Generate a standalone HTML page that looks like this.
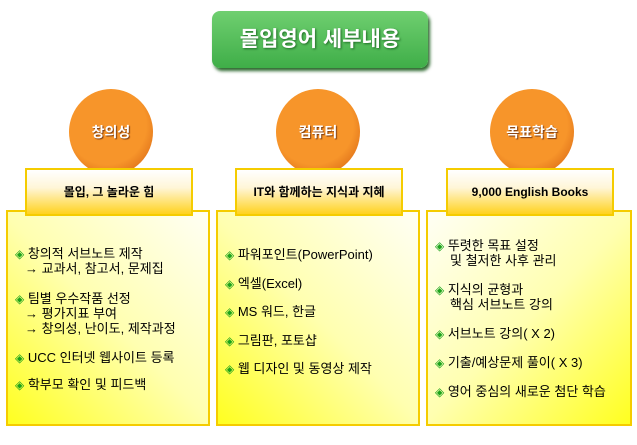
<!DOCTYPE html>
<html><head><meta charset="utf-8"><style>
body{margin:0;width:637px;height:445px;background:#fff;position:relative;overflow:hidden;font-family:"Liberation Sans","Noto Sans CJK KR",sans-serif;}
.abs{position:absolute}
.title{left:212px;top:11px;width:216px;height:57px;border-radius:8px;background:linear-gradient(#6fcf70,#3fae48);box-shadow:2px 3px 3px #2f6a30;color:#fff;font-size:21px;font-weight:bold;text-align:center;line-height:57px;text-shadow:1px 1px 2px #1f6a25;}
.circ{width:84px;height:86px;border-radius:50%;background:radial-gradient(circle at 45% 42%,#f7952a 58%,#e2761c 78%,#6a3410 100%);color:#fff;font-weight:bold;font-size:14px;text-align:center;line-height:86px;text-shadow:1px 1px 1px #7a3a10;top:89px}
.box{top:210px;height:216px;border:2px solid #f5cc00;box-sizing:border-box}
.hdr{top:168px;height:48px;border:2px solid #f5cc00;box-sizing:border-box;background:linear-gradient(#fff 0%,#fff6d8 40%,#ffd21e 100%);text-align:center;line-height:44px;font-size:12px;font-weight:bold;color:#000}
.t{font-size:13px;line-height:15px;color:#000;white-space:nowrap}
.d{color:#1aa31a;font-size:12px}
</style></head><body>
<div class="abs title">몰입영어 세부내용</div>
<div class="abs circ" style="left:69px">창의성</div>
<div class="abs circ" style="left:276px">컴퓨터</div>
<div class="abs circ" style="left:490px">목표학습</div>

<div class="abs box" style="left:6px;width:204px;background:linear-gradient(45deg,#ffff20 0%,#ffffb0 50%,#fffff5 100%)"></div>
<div class="abs box" style="left:216px;width:204px;background:linear-gradient(45deg,#ffff20 0%,#ffffb0 50%,#fffff5 100%)"></div>
<div class="abs box" style="left:426px;width:206px;background:linear-gradient(-45deg,#ffff20 0%,#ffffb0 50%,#fffff5 100%)"></div>

<div class="abs hdr" style="left:25px;width:168px">몰입, 그 놀라운 힘</div>
<div class="abs hdr" style="left:235px;width:168px">IT와 함께하는 지식과 지혜</div>
<div class="abs hdr" style="left:446px;width:168px">9,000 English Books</div>

<div class="abs t" style="left:15px;top:246px"><span class="d">◈</span> 창의적 서브노트 제작</div>
<div class="abs t" style="left:25px;top:261px">→ 교과서, 참고서, 문제집</div>
<div class="abs t" style="left:15px;top:291px"><span class="d">◈</span> 팀별 우수작품 선정</div>
<div class="abs t" style="left:25px;top:306px">→ 평가지표 부여</div>
<div class="abs t" style="left:25px;top:321px">→ 창의성, 난이도, 제작과정</div>
<div class="abs t" style="left:15px;top:350px"><span class="d">◈</span> UCC 인터넷 웹사이트 등록</div>
<div class="abs t" style="left:15px;top:377px"><span class="d">◈</span> 학부모 확인 및 피드백</div>

<div class="abs t" style="left:225px;top:247px"><span class="d">◈</span> 파워포인트(PowerPoint)</div>
<div class="abs t" style="left:225px;top:276px"><span class="d">◈</span> 엑셀(Excel)</div>
<div class="abs t" style="left:225px;top:304px"><span class="d">◈</span> MS 워드, 한글</div>
<div class="abs t" style="left:225px;top:333px"><span class="d">◈</span> 그림판, 포토샵</div>
<div class="abs t" style="left:225px;top:361px"><span class="d">◈</span> 웹 디자인 및 동영상 제작</div>

<div class="abs t" style="left:435px;top:238px"><span class="d">◈</span> 뚜렷한 목표 설정</div>
<div class="abs t" style="left:450px;top:253px">및 철저한 사후 관리</div>
<div class="abs t" style="left:435px;top:282px"><span class="d">◈</span> 지식의 균형과</div>
<div class="abs t" style="left:450px;top:297px">핵심 서브노트 강의</div>
<div class="abs t" style="left:435px;top:326px"><span class="d">◈</span> 서브노트 강의( X 2)</div>
<div class="abs t" style="left:435px;top:355px"><span class="d">◈</span> 기출/예상문제 풀이( X 3)</div>
<div class="abs t" style="left:435px;top:384px"><span class="d">◈</span> 영어 중심의 새로운 첨단 학습</div>
</body></html>
